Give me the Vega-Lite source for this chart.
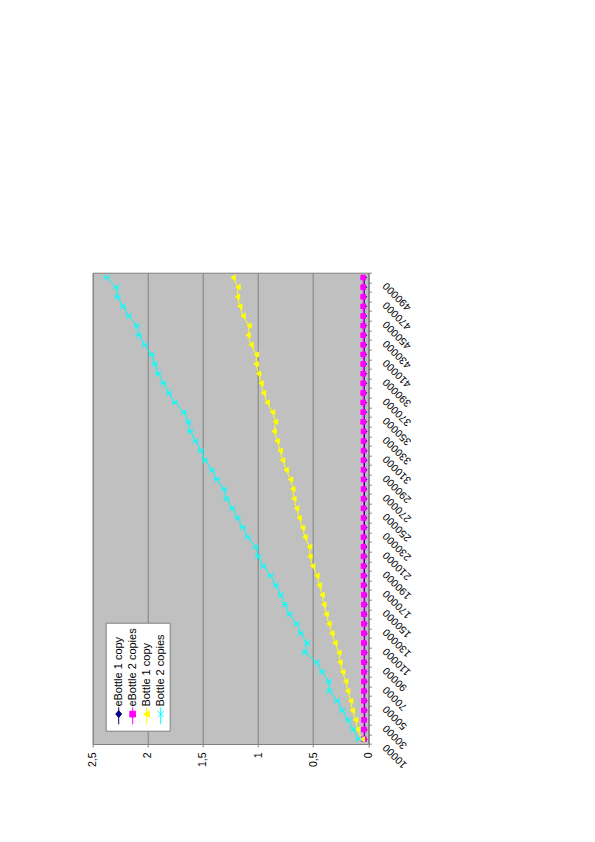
{
  "$schema": "https://vega.github.io/schema/vega-lite/v6.json",
  "width": 275.6,
  "height": 471.3,
  "autosize": {"type": "none"},
  "padding": {"left": 92.7, "top": 272.7, "right": 226.7, "bottom": 98},
  "background": "white",
  "config": {
    "font": "Liberation Sans",
    "view": {"fill": "#c0c0c0", "stroke": "#808080", "strokeWidth": 1}
  },
  "data": {"values": [
    {"size":10000,"series":"eBottle 1 copy","value":0.033},{"size":20000,"series":"eBottle 1 copy","value":0.033},{"size":30000,"series":"eBottle 1 copy","value":0.033},{"size":40000,"series":"eBottle 1 copy","value":0.033},{"size":50000,"series":"eBottle 1 copy","value":0.033},{"size":60000,"series":"eBottle 1 copy","value":0.033},{"size":70000,"series":"eBottle 1 copy","value":0.033},{"size":80000,"series":"eBottle 1 copy","value":0.033},{"size":90000,"series":"eBottle 1 copy","value":0.033},{"size":100000,"series":"eBottle 1 copy","value":0.033},
    {"size":110000,"series":"eBottle 1 copy","value":0.033},{"size":120000,"series":"eBottle 1 copy","value":0.033},{"size":130000,"series":"eBottle 1 copy","value":0.033},{"size":140000,"series":"eBottle 1 copy","value":0.033},{"size":150000,"series":"eBottle 1 copy","value":0.033},{"size":160000,"series":"eBottle 1 copy","value":0.033},{"size":170000,"series":"eBottle 1 copy","value":0.035},{"size":180000,"series":"eBottle 1 copy","value":0.035},{"size":190000,"series":"eBottle 1 copy","value":0.035},{"size":200000,"series":"eBottle 1 copy","value":0.035},
    {"size":210000,"series":"eBottle 1 copy","value":0.035},{"size":220000,"series":"eBottle 1 copy","value":0.035},{"size":230000,"series":"eBottle 1 copy","value":0.035},{"size":240000,"series":"eBottle 1 copy","value":0.035},{"size":250000,"series":"eBottle 1 copy","value":0.035},{"size":260000,"series":"eBottle 1 copy","value":0.035},{"size":270000,"series":"eBottle 1 copy","value":0.035},{"size":280000,"series":"eBottle 1 copy","value":0.035},{"size":290000,"series":"eBottle 1 copy","value":0.035},{"size":300000,"series":"eBottle 1 copy","value":0.035},
    {"size":310000,"series":"eBottle 1 copy","value":0.035},{"size":320000,"series":"eBottle 1 copy","value":0.035},{"size":330000,"series":"eBottle 1 copy","value":0.035},{"size":340000,"series":"eBottle 1 copy","value":0.037},{"size":350000,"series":"eBottle 1 copy","value":0.037},{"size":360000,"series":"eBottle 1 copy","value":0.037},{"size":370000,"series":"eBottle 1 copy","value":0.037},{"size":380000,"series":"eBottle 1 copy","value":0.037},{"size":390000,"series":"eBottle 1 copy","value":0.037},{"size":400000,"series":"eBottle 1 copy","value":0.037},
    {"size":410000,"series":"eBottle 1 copy","value":0.037},{"size":420000,"series":"eBottle 1 copy","value":0.037},{"size":430000,"series":"eBottle 1 copy","value":0.037},{"size":440000,"series":"eBottle 1 copy","value":0.037},{"size":450000,"series":"eBottle 1 copy","value":0.037},{"size":460000,"series":"eBottle 1 copy","value":0.037},{"size":470000,"series":"eBottle 1 copy","value":0.037},{"size":480000,"series":"eBottle 1 copy","value":0.037},{"size":490000,"series":"eBottle 1 copy","value":0.037},

    {"size":10000,"series":"eBottle 2 copies","value":0.04},{"size":20000,"series":"eBottle 2 copies","value":0.04},{"size":30000,"series":"eBottle 2 copies","value":0.04},{"size":40000,"series":"eBottle 2 copies","value":0.04},{"size":50000,"series":"eBottle 2 copies","value":0.04},{"size":60000,"series":"eBottle 2 copies","value":0.04},{"size":70000,"series":"eBottle 2 copies","value":0.04},{"size":80000,"series":"eBottle 2 copies","value":0.04},{"size":90000,"series":"eBottle 2 copies","value":0.04},{"size":100000,"series":"eBottle 2 copies","value":0.04},
    {"size":110000,"series":"eBottle 2 copies","value":0.04},{"size":120000,"series":"eBottle 2 copies","value":0.04},{"size":130000,"series":"eBottle 2 copies","value":0.04},{"size":140000,"series":"eBottle 2 copies","value":0.04},{"size":150000,"series":"eBottle 2 copies","value":0.04},{"size":160000,"series":"eBottle 2 copies","value":0.04},{"size":170000,"series":"eBottle 2 copies","value":0.043},{"size":180000,"series":"eBottle 2 copies","value":0.043},{"size":190000,"series":"eBottle 2 copies","value":0.043},{"size":200000,"series":"eBottle 2 copies","value":0.043},
    {"size":210000,"series":"eBottle 2 copies","value":0.043},{"size":220000,"series":"eBottle 2 copies","value":0.043},{"size":230000,"series":"eBottle 2 copies","value":0.043},{"size":240000,"series":"eBottle 2 copies","value":0.043},{"size":250000,"series":"eBottle 2 copies","value":0.043},{"size":260000,"series":"eBottle 2 copies","value":0.043},{"size":270000,"series":"eBottle 2 copies","value":0.043},{"size":280000,"series":"eBottle 2 copies","value":0.043},{"size":290000,"series":"eBottle 2 copies","value":0.043},{"size":300000,"series":"eBottle 2 copies","value":0.043},
    {"size":310000,"series":"eBottle 2 copies","value":0.043},{"size":320000,"series":"eBottle 2 copies","value":0.043},{"size":330000,"series":"eBottle 2 copies","value":0.043},{"size":340000,"series":"eBottle 2 copies","value":0.046},{"size":350000,"series":"eBottle 2 copies","value":0.046},{"size":360000,"series":"eBottle 2 copies","value":0.046},{"size":370000,"series":"eBottle 2 copies","value":0.046},{"size":380000,"series":"eBottle 2 copies","value":0.046},{"size":390000,"series":"eBottle 2 copies","value":0.046},{"size":400000,"series":"eBottle 2 copies","value":0.046},
    {"size":410000,"series":"eBottle 2 copies","value":0.046},{"size":420000,"series":"eBottle 2 copies","value":0.046},{"size":430000,"series":"eBottle 2 copies","value":0.046},{"size":440000,"series":"eBottle 2 copies","value":0.046},{"size":450000,"series":"eBottle 2 copies","value":0.046},{"size":460000,"series":"eBottle 2 copies","value":0.046},{"size":470000,"series":"eBottle 2 copies","value":0.046},{"size":480000,"series":"eBottle 2 copies","value":0.046},{"size":490000,"series":"eBottle 2 copies","value":0.046},

    {"size":10000,"series":"Bottle 1 copy","value":0.055},{"size":20000,"series":"Bottle 1 copy","value":0.1},{"size":30000,"series":"Bottle 1 copy","value":0.115},{"size":40000,"series":"Bottle 1 copy","value":0.145},{"size":50000,"series":"Bottle 1 copy","value":0.16},{"size":60000,"series":"Bottle 1 copy","value":0.187},{"size":70000,"series":"Bottle 1 copy","value":0.205},{"size":80000,"series":"Bottle 1 copy","value":0.233},{"size":90000,"series":"Bottle 1 copy","value":0.257},{"size":100000,"series":"Bottle 1 copy","value":0.266},
    {"size":110000,"series":"Bottle 1 copy","value":0.303},{"size":120000,"series":"Bottle 1 copy","value":0.33},{"size":130000,"series":"Bottle 1 copy","value":0.357},{"size":140000,"series":"Bottle 1 copy","value":0.382},{"size":150000,"series":"Bottle 1 copy","value":0.403},{"size":160000,"series":"Bottle 1 copy","value":0.418},{"size":170000,"series":"Bottle 1 copy","value":0.445},{"size":180000,"series":"Bottle 1 copy","value":0.466},{"size":190000,"series":"Bottle 1 copy","value":0.505},{"size":200000,"series":"Bottle 1 copy","value":0.53},
    {"size":210000,"series":"Bottle 1 copy","value":0.533},{"size":220000,"series":"Bottle 1 copy","value":0.575},{"size":230000,"series":"Bottle 1 copy","value":0.596},{"size":240000,"series":"Bottle 1 copy","value":0.627},{"size":250000,"series":"Bottle 1 copy","value":0.651},{"size":260000,"series":"Bottle 1 copy","value":0.675},{"size":270000,"series":"Bottle 1 copy","value":0.685},{"size":280000,"series":"Bottle 1 copy","value":0.705},{"size":290000,"series":"Bottle 1 copy","value":0.745},{"size":300000,"series":"Bottle 1 copy","value":0.778},
    {"size":310000,"series":"Bottle 1 copy","value":0.8},{"size":320000,"series":"Bottle 1 copy","value":0.827},{"size":330000,"series":"Bottle 1 copy","value":0.855},{"size":340000,"series":"Bottle 1 copy","value":0.842},{"size":350000,"series":"Bottle 1 copy","value":0.869},{"size":360000,"series":"Bottle 1 copy","value":0.918},{"size":370000,"series":"Bottle 1 copy","value":0.951},{"size":380000,"series":"Bottle 1 copy","value":0.973},{"size":390000,"series":"Bottle 1 copy","value":0.994},{"size":400000,"series":"Bottle 1 copy","value":1.018},
    {"size":410000,"series":"Bottle 1 copy","value":1.015},{"size":420000,"series":"Bottle 1 copy","value":1.064},{"size":430000,"series":"Bottle 1 copy","value":1.091},{"size":440000,"series":"Bottle 1 copy","value":1.082},{"size":450000,"series":"Bottle 1 copy","value":1.136},{"size":460000,"series":"Bottle 1 copy","value":1.166},{"size":470000,"series":"Bottle 1 copy","value":1.187},{"size":480000,"series":"Bottle 1 copy","value":1.182},{"size":490000,"series":"Bottle 1 copy","value":1.227},

    {"size":10000,"series":"Bottle 2 copies","value":0.09},{"size":20000,"series":"Bottle 2 copies","value":0.136},{"size":30000,"series":"Bottle 2 copies","value":0.182},{"size":40000,"series":"Bottle 2 copies","value":0.236},{"size":50000,"series":"Bottle 2 copies","value":0.282},{"size":60000,"series":"Bottle 2 copies","value":0.354},{"size":70000,"series":"Bottle 2 copies","value":0.36},{"size":80000,"series":"Bottle 2 copies","value":0.418},{"size":90000,"series":"Bottle 2 copies","value":0.469},{"size":100000,"series":"Bottle 2 copies","value":0.575},
    {"size":110000,"series":"Bottle 2 copies","value":0.555},{"size":120000,"series":"Bottle 2 copies","value":0.612},{"size":130000,"series":"Bottle 2 copies","value":0.651},{"size":140000,"series":"Bottle 2 copies","value":0.715},{"size":150000,"series":"Bottle 2 copies","value":0.757},{"size":160000,"series":"Bottle 2 copies","value":0.794},{"size":170000,"series":"Bottle 2 copies","value":0.839},{"size":180000,"series":"Bottle 2 copies","value":0.887},{"size":190000,"series":"Bottle 2 copies","value":0.951},{"size":200000,"series":"Bottle 2 copies","value":1.0},
    {"size":210000,"series":"Bottle 2 copies","value":1.021},{"size":220000,"series":"Bottle 2 copies","value":1.094},{"size":230000,"series":"Bottle 2 copies","value":1.139},{"size":240000,"series":"Bottle 2 copies","value":1.185},{"size":250000,"series":"Bottle 2 copies","value":1.233},{"size":260000,"series":"Bottle 2 copies","value":1.285},{"size":270000,"series":"Bottle 2 copies","value":1.309},{"size":280000,"series":"Bottle 2 copies","value":1.373},{"size":290000,"series":"Bottle 2 copies","value":1.418},{"size":300000,"series":"Bottle 2 copies","value":1.482},
    {"size":310000,"series":"Bottle 2 copies","value":1.518},{"size":320000,"series":"Bottle 2 copies","value":1.566},{"size":330000,"series":"Bottle 2 copies","value":1.615},{"size":340000,"series":"Bottle 2 copies","value":1.633},{"size":350000,"series":"Bottle 2 copies","value":1.673},{"size":360000,"series":"Bottle 2 copies","value":1.755},{"size":370000,"series":"Bottle 2 copies","value":1.809},{"size":380000,"series":"Bottle 2 copies","value":1.857},{"size":390000,"series":"Bottle 2 copies","value":1.906},{"size":400000,"series":"Bottle 2 copies","value":1.936},
    {"size":410000,"series":"Bottle 2 copies","value":1.966},{"size":420000,"series":"Bottle 2 copies","value":2.027},{"size":430000,"series":"Bottle 2 copies","value":2.082},{"size":440000,"series":"Bottle 2 copies","value":2.1},{"size":450000,"series":"Bottle 2 copies","value":2.173},{"size":460000,"series":"Bottle 2 copies","value":2.224},{"size":470000,"series":"Bottle 2 copies","value":2.275},{"size":480000,"series":"Bottle 2 copies","value":2.287},{"size":490000,"series":"Bottle 2 copies","value":2.373}
  ]},
  "encoding": {
    "y": {
      "field": "size", "type": "ordinal", "sort": "descending", "bandPosition": 0.5,
      "scale": {"type": "band", "paddingInner": 0, "paddingOuter": 0},
      "axis": {
        "orient": "right", "title": null, "tickBand": "extent",
        "domainColor": "#808080", "tickColor": "#808080", "tickSize": 3,
        "labelAngle": 225, "labelAlign": "right", "labelBaseline": "middle",
        "labelPadding": 13, "labelOffset": 6, "labelFontSize": 10.5, "labelColor": "#000000",
        "labelFont": "Liberation Sans", "labelOverlap": false, "labelBound": false,
        "labelExpr": "datum.value % 20000 == 10000 ? datum.label : ''"
      }
    },
    "x": {
      "field": "value", "type": "quantitative",
      "scale": {"domain": [0, 2.5], "reverse": true, "nice": false, "zero": true},
      "axis": {
        "title": null, "values": [0, 0.5, 1, 1.5, 2, 2.5],
        "grid": true, "gridColor": "#808080", "gridOpacity": 1,
        "domainColor": "#808080", "tickColor": "#808080", "tickSize": 3,
        "labelAngle": 270, "labelAlign": "right", "labelBaseline": "middle",
        "labelPadding": 5, "labelFontSize": 10.5, "labelColor": "#000000",
        "labelFont": "Liberation Sans", "labelFlush": false, "labelOverlap": false,
        "labelExpr": "datum.value == 0.5 ? '0,5' : datum.value == 1.5 ? '1,5' : datum.value == 2.5 ? '2,5' : format(datum.value, 'd')"
      }
    },
    "color": {
      "field": "series", "type": "nominal",
      "scale": {
        "domain": ["eBottle 1 copy", "eBottle 2 copies", "Bottle 1 copy", "Bottle 2 copies"],
        "range": ["#000080", "#ff00ff", "#ffff00", "#00ffff"]
      },
      "legend": {
        "title": " ", "titleOrient": "top", "titleFontSize": 4, "titlePadding": 74,
        "orient": "bottom-left", "offset": 13,
        "direction": "horizontal", "columns": 4,
        "fillColor": "#ffffff", "strokeColor": "#808080", "padding": 4,
        "columnPadding": -7,
        "symbolSize": 289, "symbolStrokeWidth": 1,
        "labelFont": "Liberation Sans", "labelFontSize": 11, "labelColor": "#000000",
        "labelAlign": "left", "labelBaseline": "middle", "labelOffset": -9, "labelLimit": 200,
        "encoding": {
          "labels": {"angle": {"value": 270}, "dx": {"value": 7.5}},
          "symbols": {
            "shape": {"value": {"expr": "datum.value === 'eBottle 1 copy' ? 'M0,-0.8L0,1.2M0,-0.4L0.35,0L0,0.4L-0.35,0Z' : datum.value === 'eBottle 2 copies' ? 'M0,-0.8L0,1.2M-0.34,-0.34L0.34,-0.34L0.34,0.34L-0.34,0.34Z' : datum.value === 'Bottle 1 copy' ? 'M0,-0.8L0,1.2M-0.38,0L0.33,-0.38L0.33,0.38Z' : 'M0,-0.8L0,1.2M-0.35,-0.35L0.35,0.35M-0.35,0.35L0.35,-0.35'"}},
            "fill": {"value": {"expr": "datum.value === 'eBottle 1 copy' ? '#000080' : datum.value === 'eBottle 2 copies' ? '#ff00ff' : datum.value === 'Bottle 1 copy' ? '#ffff00' : 'transparent'"}},
            "stroke": {"value": {"expr": "datum.value === 'eBottle 1 copy' ? '#000080' : datum.value === 'eBottle 2 copies' ? '#ff00ff' : datum.value === 'Bottle 1 copy' ? '#ffff00' : '#00ffff'"}},
            "strokeWidth": {"value": 1},
            "opacity": {"value": 1}
          }
        }
      }
    }
  },
  "layer": [
    {"mark": {"type": "line", "strokeWidth": 1}},
    {
      "transform": [{"filter": "datum.series === 'eBottle 1 copy'"}],
      "mark": {"type": "point", "shape": "diamond", "filled": true, "opacity": 1, "size": 22, "stroke": "#000080", "strokeWidth": 1}
    },
    {
      "transform": [{"filter": "datum.series === 'eBottle 2 copies'"}],
      "mark": {"type": "point", "shape": "square", "filled": true, "opacity": 1, "size": 22, "stroke": "#ff00ff", "strokeWidth": 1}
    },
    {
      "transform": [{"filter": "datum.series === 'Bottle 1 copy'"}],
      "mark": {"type": "point", "shape": "triangle-left", "filled": true, "opacity": 1, "size": 26, "stroke": "#ffff00", "strokeWidth": 1}
    },
    {
      "transform": [{"filter": "datum.series === 'Bottle 2 copies'"}],
      "mark": {"type": "point", "shape": "M-1,-1L1,1M-1,1L1,-1M-1,0L1,0", "filled": false, "opacity": 1, "size": 36, "strokeWidth": 1}
    }
  ]
}
